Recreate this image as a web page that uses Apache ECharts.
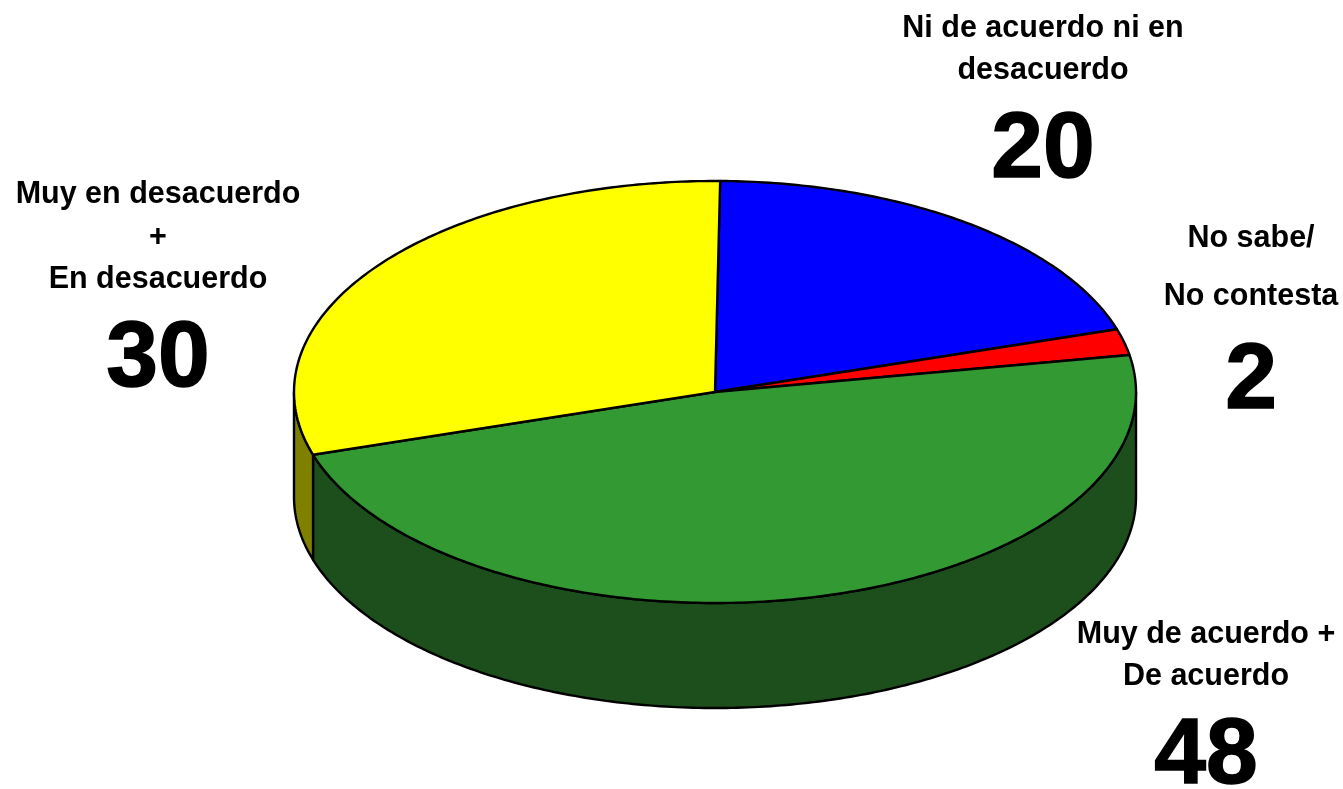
<!DOCTYPE html>
<html>
<head>
<meta charset="utf-8">
<style>html,body{margin:0;padding:0;background:#fff}#c{width:1343px;height:789px}</style>
<script src="https://cdn.jsdelivr.net/npm/echarts@6/dist/echarts.min.js"></script>
</head>
<body>
<div id="c"></div>
<script>
const categories = ['Ni de acuerdo ni en desacuerdo', 'No sabe/No contesta', 'Muy de acuerdo + De acuerdo', 'Muy en desacuerdo + En desacuerdo'];
const values = [20, 2, 48, 30];
const topColors = ['#0000ff', '#ff0000', '#339933', '#ffff00'];
const sideColors = ['#000080', '#800000', '#1c4f1c', '#808000'];
const labelLines = [
  ['Ni de acuerdo ni en', 'desacuerdo'],
  ['No sabe/', 'No contesta'],
  ['Muy de acuerdo +', 'De acuerdo'],
  ['Muy en desacuerdo', '+', 'En desacuerdo']
];
const labelCenterX = [1043, 1251, 1206, 158];
const labelLineY = [[29, 71], [239, 297], [635, 677], [195, 238, 280]];
const numberY = [151, 382, 757, 360];

const CX = 715, CY = 392, RX = 421, RY = 211, DEPTH = 105, START = 0.7;
const total = values.reduce((a, b) => a + b, 0);
const pt = (deg, dy) => {
  const r = deg * Math.PI / 180;
  return [CX + RX * Math.sin(r), CY - RY * Math.cos(r) + (dy || 0)];
};
const arc = (a, b, dy) => {
  const out = [], n = Math.max(2, Math.ceil(Math.abs(b - a) / 0.75));
  for (let i = 0; i <= n; i++) out.push(pt(a + (b - a) * i / n, dy));
  return out;
};
const lineStyle = {stroke: '#000', lineWidth: 2.4, lineJoin: 'round'};

function renderSlice(params, api) {
  const i = api.value(0), v = api.value(1);
  let before = 0;
  for (let k = 0; k < i; k++) before += values[k];
  const a0 = START + before / total * 360, a1 = a0 + v / total * 360;
  const children = [];
  const w0 = Math.max(a0, 90), w1 = Math.min(a1, 270);
  if (w1 > w0) {
    const top = arc(w0, w1, 0), bottom = arc(w1, w0, DEPTH);
    children.push({type: 'polygon', shape: {points: top.concat(bottom)},
      style: Object.assign({fill: sideColors[i]}, lineStyle)});
  }
  children.push({type: 'polygon', shape: {points: [[CX, CY]].concat(arc(a0, a1, 0))},
    style: Object.assign({fill: topColors[i]}, lineStyle)});
  return {type: 'group', children};
}

const font = '"Liberation Sans", Arial, sans-serif';
const texts = [];
labelLines.forEach((lines, i) => {
  lines.forEach((t, j) => texts.push({
    type: 'text', x: labelCenterX[i], y: labelLineY[i][j],
    style: {text: t, fill: '#000', font: 'bold 30.5px ' + font, textAlign: 'center', textVerticalAlign: 'middle'}
  }));
  texts.push({
    type: 'text', x: labelCenterX[i], y: numberY[i],
    style: {text: String(values[i]), fill: '#000', stroke: '#000', lineWidth: 1.5, font: 'bold 93px ' + font, textAlign: 'center', textVerticalAlign: 'middle'}
  });
});

const chart = echarts.init(document.getElementById('c'), null, {renderer: 'canvas'});
chart.setOption({
  animation: false,
  backgroundColor: '#fff',
  graphic: {elements: texts},
  series: [{
    type: 'custom',
    coordinateSystem: 'none',
    renderItem: renderSlice,
    data: values.map((v, i) => ({name: categories[i], value: [i, v]}))
  }]
});
</script>
</body>
</html>
